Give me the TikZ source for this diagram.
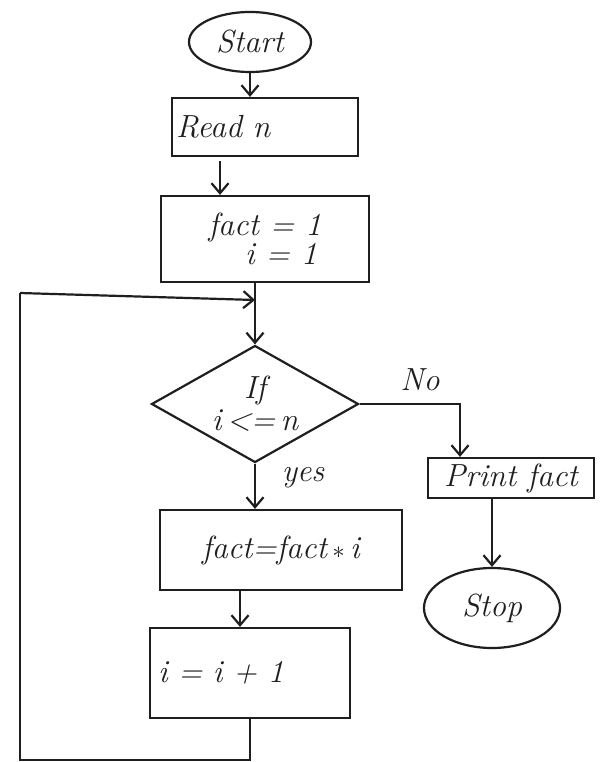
\documentclass[tikz,border=0pt]{standalone}
\usetikzlibrary{arrows.meta,shapes.geometric}
\begin{document}
\begin{tikzpicture}[x=1pt,y=-1pt,
  ink/.style={draw=black!88, line width=2.2pt},
  txt/.style={font=\fontsize{32}{33}\selectfont\itshape, text=black!88},
  procbox/.style={ink, txt, rectangle, inner sep=0pt},
  termbox/.style={ink, txt, ellipse, inner sep=0pt},
  decbox/.style={ink, txt, diamond, inner sep=-9pt},
  flow/.style={ink, -{Straight Barb[length=10pt,width=17pt,line width=2.2pt]}},
  lbl/.style={txt}
]
\useasboundingbox (0,0) rectangle (602,762);
\fill[white] (0,0) rectangle (602,762);

% terminals, processes and the test
\node[termbox, minimum width=122pt, minimum height=60pt] (start) at (250,42) {Start};
\node[procbox, minimum width=186pt, minimum height=58pt, text width=178pt, align=left] (read) at (265,127) {Read n};
\node[procbox, minimum width=208pt, minimum height=86pt, align=center] (init) at (265,239) {fact = 1\\[-4pt]\hspace*{1.0em}i = 1};
\node[decbox, minimum width=207pt, minimum height=117pt, align=center] (test) at (255,404) {If\\[-1pt]i\,<=\,n};
\node[procbox, minimum width=242pt, minimum height=80pt] (mul) at (281,550) {fact=fact\,$\ast$\,i};
\node[procbox, minimum width=200pt, minimum height=90pt, text width=184pt, align=left] (inc) at (250,673) {i = i + 1};
\node[procbox, minimum width=166pt, minimum height=40pt] (print) at (511,478) {Print fact};
\node[termbox, minimum width=136pt, minimum height=80pt] (stop) at (492,608) {Stop};

% branch labels
\node[lbl] (nolbl) at (420,380) {No};
\node[lbl] (yeslbl) at (303,478) {yes};

% loop corners
\coordinate (loopbr) at (250,760);
\coordinate (loopbl) at (20,760);
\coordinate (looptl) at (20,293);
\coordinate (join) at (255,300);

% connectors
\draw[flow] (start.south) -- (start.south |- read.north);
\draw[flow] ([xshift=-45pt]read.south) ++(0,4) -- ([xshift=-45pt]read.south |- init.north);
\draw[flow] (init.south -| test.north) -- (test.north);
\draw[flow] (test.south) -- (test.south |- mul.north);
\draw[flow] ([xshift=-41pt]mul.south) -- ([xshift=-41pt]mul.south |- inc.north);
\draw[flow] (test.east) -| ([xshift=-51pt]print.north);
\draw[flow] (stop.north |- print.south) -- (stop.north);
\draw[ink] (inc.south) -- (loopbr) -- (loopbl) -- (looptl);
\draw[flow] (looptl) -- (join);
\end{tikzpicture}
\end{document}
